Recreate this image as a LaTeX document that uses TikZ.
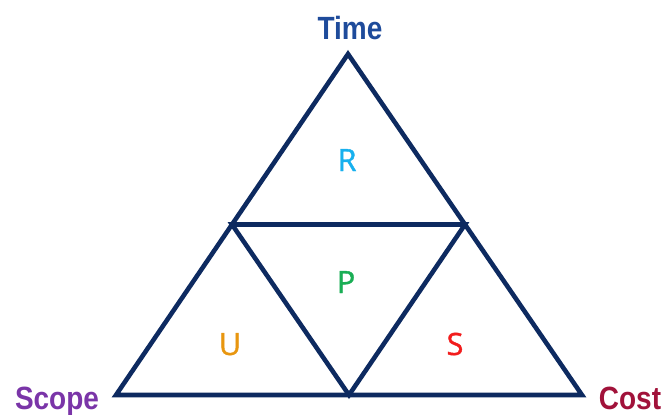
\documentclass[tikz,border=0pt]{standalone}
\usepackage{fontspec}
\setmainfont{Liberation Sans}
\newfontfamily\headfont[FakeStretch=0.87]{Liberation Sans}
\newfontfamily\partfont[FakeBold=1.2]{Open Sans}
\usepackage{xcolor}
\usepackage{tikz}
\usetikzlibrary{positioning,calc}

\definecolor{edgeblue}{HTML}{0D2A60}
\definecolor{timeblue}{HTML}{1E4B9B}
\definecolor{scopepurple}{HTML}{7A35A8}
\definecolor{costred}{HTML}{A1123A}
\definecolor{rblue}{HTML}{17B0EE}
\definecolor{pgreen}{HTML}{1AAE55}
\definecolor{uorange}{HTML}{E8960F}
\definecolor{sred}{HTML}{F21C1C}

\begin{document}
\begin{tikzpicture}[
    x=0.02cm, y=-0.02cm,
    side/.style={draw=edgeblue, line width=2.6pt, line join=miter, miter limit=10},
    corner/.style={font=\headfont\bfseries\fontsize{18.3}{20}\selectfont, anchor=base, inner sep=0pt},
    part/.style={font=\partfont\fontsize{17.5}{19}\selectfont, anchor=base, inner sep=0pt}
]
\useasboundingbox (0,0) rectangle (665,414);

% Corners of the triangle
\coordinate (top) at (348,54);
\coordinate (left) at (116,395);
\coordinate (right) at (582,395);
\coordinate (midleft) at ($(top)!0.5!(left)$);
\coordinate (midright) at ($(top)!0.5!(right)$);
\coordinate (midbottom) at ($(left)!0.5!(right)$);

% Outer triangle and inner triangle
\draw[side] (top) -- (right) -- (left) -- cycle;
\draw[side] (midleft) -- (midright) -- (midbottom) -- cycle;

% Corner labels
\node[corner, text=timeblue] (time) at (350,39) {Time};
\node[corner, text=scopepurple] (scope) at (57,409) {Scope};
\node[corner, text=costred] (cost) at (630,409) {Cost};

% Inner labels
\node[part, text=rblue] (r) at (347,171) {R};
\node[part, text=pgreen] (p) at (346,293) {P};
\node[part, text=uorange] (u) at (230,355) {U};
\node[part, text=sred] (s) at (455,355) {S};
\end{tikzpicture}
\end{document}
